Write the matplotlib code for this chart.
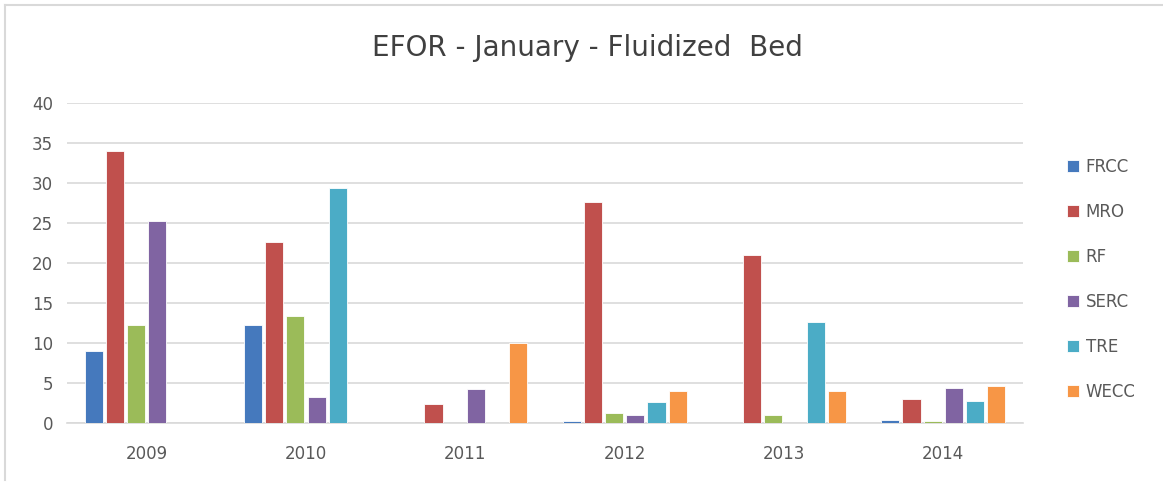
import numpy as np
import matplotlib.pyplot as plt
from matplotlib.lines import Line2D

# data
years = ['2009', '2010', '2011', '2012', '2013', '2014']
regions = ['FRCC', 'MRO', 'RF', 'SERC', 'TRE', 'WECC']
frcc = [9.0, 12.2, 0, 0.2, 0, 0.4]
mro = [34.0, 22.6, 2.4, 27.6, 21.0, 3.0]
rf = [12.2, 13.4, 0, 1.2, 1.0, 0.2]
serc = [25.2, 3.2, 4.2, 1.0, 0, 4.4]
tre = [0, 29.4, 0, 2.6, 12.6, 2.8]
wecc = [0, 0, 10.0, 4.0, 4.0, 4.6]
colors = ['#4579BD', '#C0504D', '#9BBB59', '#8064A2', '#4BACC6', '#F79646']

series = [frcc, mro, rf, serc, tre, wecc]

fig = plt.figure(figsize=(11.63, 4.83), dpi=100)
ax = fig.add_axes([67 / 1163, 60 / 483, 956 / 1163, 320 / 483])

index = np.arange(len(years))
stride = 0.133
bar_width = 0.114
for i, (name, vals) in enumerate(zip(regions, series)):
    ax.bar(index + (i - 2.5) * stride, vals, bar_width,
           color=colors[i], edgecolor='white', linewidth=0.6, label=name, zorder=3)

ax.set_xlim(-0.5, len(years) - 0.5)
ax.set_ylim(0, 40)
ax.set_yticks(range(0, 45, 5))
ax.set_xticks(index)
ax.set_xticklabels(years)
ax.grid(axis='y', color='#D9D9D9', linewidth=1.2, zorder=0)
for s in ['top', 'right', 'left']:
    ax.spines[s].set_visible(False)
ax.spines['bottom'].set_color('#D9D9D9')
ax.spines['bottom'].set_linewidth(1.2)
ax.tick_params(axis='both', length=0, labelsize=12, labelcolor='#595959')
ax.tick_params(axis='x', pad=16)
ax.tick_params(axis='y', pad=10)

fig.text(0.505, 0.9, 'EFOR - January - Fluidized  Bed', ha='center', va='center',
         fontsize=20, color='#404040')

ax.legend(loc='upper left', bbox_to_anchor=(1.03, 0.876), frameon=False,
          fontsize=12, labelspacing=1.62, handlelength=0.75, handleheight=0.75,
          handletextpad=0.4, labelcolor='#595959')

# chart area border (top and left visible)
fig.add_artist(Line2D([5 / 1163, 1], [1 - 5 / 483, 1 - 5 / 483], color='#D9D9D9', lw=1.5))
fig.add_artist(Line2D([5 / 1163, 5 / 1163], [3 / 483, 1 - 5 / 483], color='#D9D9D9', lw=1.5))

fig.savefig('out.png', dpi=100)
